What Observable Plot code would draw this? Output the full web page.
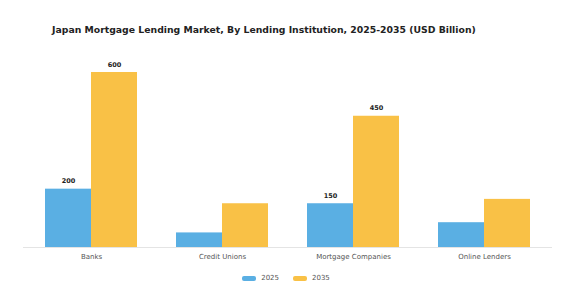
<!DOCTYPE html>
<html>
<head>
<meta charset="utf-8">
<script src="https://cdn.jsdelivr.net/npm/d3@7"></script>
<script src="https://cdn.jsdelivr.net/npm/@observablehq/plot@0.6"></script>
<style>
  html, body { margin: 0; padding: 0; background: #fff; }
  body { width: 568px; height: 301px; overflow: hidden; font-family: "DejaVu Sans", sans-serif; }
  #title { height: 50px; box-sizing: border-box; padding-top: 24px; padding-left: 52px; text-align: left; font-weight: bold; font-size: 9.3px; color: #222; white-space: nowrap; }
  #legend { display: flex; justify-content: center; gap: 14px; margin-top: 9px; font-size: 7px; color: #555; margin-left: 4px; }
  .item { display: flex; align-items: center; gap: 5px; }
  .sw { width: 14px; height: 5px; border-radius: 2px; display: inline-block; }
</style>
</head>
<body>
<div id="title">Japan Mortgage Lending Market, By Lending Institution, 2025-2035 (USD Billion)</div>
<div id="chart"></div>
<div id="legend"></div>
<script>
const categories = ["Banks", "Credit Unions", "Mortgage Companies", "Online Lenders"];
const years = ["2025", "2035"];
const values2025 = [200, 50, 150, 85];
const values2035 = [600, 150, 450, 165];
const labeledCategories = ["Banks", "Mortgage Companies"];
const colors = ["#5AAFE3", "#F9C146"];

const data = categories.flatMap((c, i) => [
  {category: c, year: years[0], value: values2025[i]},
  {category: c, year: years[1], value: values2035[i]}
]);

const chart = Plot.plot({
  width: 568,
  height: 215,
  marginTop: 22,
  marginBottom: 18,
  marginLeft: 24,
  marginRight: 18,
  style: {fontFamily: "DejaVu Sans, sans-serif", background: "#fff"},
  fx: {domain: categories, paddingInner: 0.3, paddingOuter: 0.15, label: null, axis: null},
  x: {domain: years, padding: 0, axis: null},
  y: {domain: [0, 600], axis: null},
  color: {domain: years, range: colors},
  marks: [
    Plot.barY(data, {fx: "category", x: "year", y: "value", fill: "year"}),
    Plot.ruleY([0], {stroke: "#e4e4e4", strokeWidth: 1, insetLeft: -22, insetRight: -22}),
    Plot.text(data.filter(d => labeledCategories.includes(d.category)), {
      fx: "category", x: "year", y: "value", text: d => String(d.value),
      dy: -8, fontSize: 6.5, fontWeight: "bold", fill: "#222"
    }),
    Plot.axisFx({anchor: "bottom", tickSize: 0, tickPadding: 7, fontSize: 7, color: "#555", label: null})
  ]
});
document.getElementById("chart").appendChild(chart);

const legend = document.getElementById("legend");
years.forEach((y, i) => {
  const item = document.createElement("div");
  item.className = "item";
  const sw = document.createElement("span");
  sw.className = "sw";
  sw.style.background = colors[i];
  const t = document.createElement("span");
  t.textContent = y;
  item.appendChild(sw);
  item.appendChild(t);
  legend.appendChild(item);
});
</script>
</body>
</html>
